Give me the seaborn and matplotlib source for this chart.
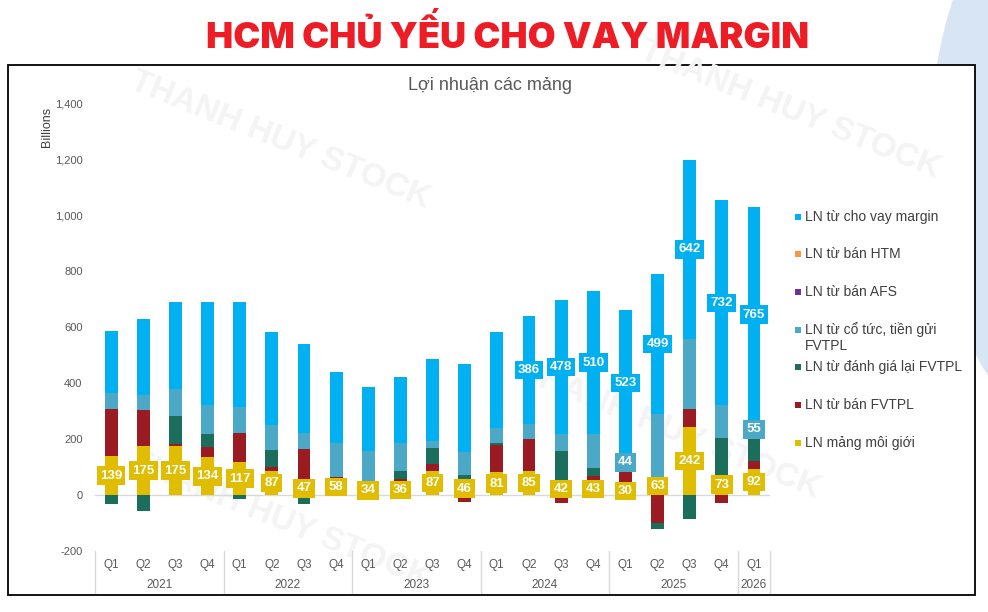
import numpy as np
import pandas as pd
import matplotlib
matplotlib.use("Agg")
import matplotlib.pyplot as plt
import matplotlib.transforms as mtransforms
from matplotlib.patches import Rectangle, Ellipse
import seaborn as sns

# ---------------- data ----------------
quarters = ["Q1", "Q2", "Q3", "Q4"] * 5 + ["Q1"]
years = ["2021"] * 4 + ["2022"] * 4 + ["2023"] * 4 + ["2024"] * 4 + ["2025"] * 4 + ["2026"]
year_labels = ["2021", "2022", "2023", "2024", "2025", "2026"]

# series, bottom of stack first (billions VND)
moi_gioi = [139, 175, 175, 134, 117, 87, 47, 58, 34, 36, 87, 46, 81, 85, 42, 43, 30, 63, 242, 73, 92]
ban_fvtpl = [169, 129, 8, 39, 106, 14, 119, 8, 0, 20, 23, -24, 96, 114, -30, 26, 57, -100, 66, -29, 30]
danh_gia_lai = [-32, -56, 100, 45, -15, 60, -33, -5, 16, 31, 59, 26, 10, 0, 115, 27, 8, -22, -86, 131, 85]
co_tuc = [58, 54, 95, 103, 93, 90, 57, 119, 107, 100, 24, 81, 54, 55, 61, 122, 44, 227, 248, 116, 55]
ban_afs = [0] * 21
ban_htm = [0] * 21
cho_vay = [221, 272, 313, 370, 375, 330, 318, 253, 227, 233, 294, 316, 340, 386, 478, 510, 523, 499, 642, 732, 765]

show_margin_label = [False] * 13 + [True] * 8
show_cotuc_label = [False] * 16 + [True, False, False, False, True]

# ---------------- style ----------------
sns.set_theme(style="white")
plt.rcParams['font.family'] = ['Liberation Sans', 'DejaVu Sans']

C_MARGIN = "#00B0F0"
C_HTM = "#F79646"
C_AFS = "#7030A0"
C_COTUC = "#4BA8C6"
C_DGL = "#1B6E5B"
C_BAN = "#9B1B22"
C_MG = "#E0BD00"
colors = [C_MG, C_BAN, C_DGL, C_COTUC, C_AFS, C_HTM, C_MARGIN]
GRAY = "#595959"

W, H = 988, 612
fig = plt.figure(figsize=(W / 100, H / 100), dpi=100)

def fx(px):
    return px / W

def fy(py):
    return 1 - py / H

# decorative background shape on the right
fig.patches.append(Ellipse((fx(1100), fy(150)), 2 * 170 / W, 2 * 300 / H,
                           transform=fig.transFigure, facecolor="#D8E5F5",
                           edgecolor="none", zorder=-5))
# chart frame
fig.patches.append(Rectangle((fx(8), fy(595)), fx(975) - fx(8), fy(65) - fy(595),
                             transform=fig.transFigure, facecolor="white",
                             edgecolor="black", linewidth=1.3, zorder=-4))

# watermarks
for (x, y) in [(280, 140), (790, 110), (670, 430), (280, 520)]:
    fig.text(fx(x), fy(y), "THANH HUY STOCK", rotation=-22, fontsize=24,
             fontweight="bold", color="#F4F4F4", ha="center", va="center", zorder=-3)

# main title
fig.text(fx(508), fy(35), "HCM CHỦ YẾU CHO VAY MARGIN", fontsize=26,
         fontweight="black", color="#EE1C25", ha="center", va="center",
         family=["Inter", "Liberation Sans", "DejaVu Sans"])
# chart title
fig.text(fx(490), fy(86), "Lợi nhuận các mảng", fontsize=13, color=GRAY,
         ha="center", va="center")

ax = fig.add_axes([fx(95), fy(551), fx(770) - fx(95), fy(103) - fy(551)])
ax.set_facecolor("none")

cats = [f"{q} {y}" for q, y in zip(quarters, years)]
arr = np.array([moi_gioi, ban_fvtpl, danh_gia_lai, co_tuc, ban_afs, ban_htm, cho_vay], dtype=float)
pos = np.clip(arr, 0, None).cumsum(axis=0)
neg = np.clip(arr, None, 0).cumsum(axis=0)

for k in reversed(range(arr.shape[0])):
    hp = np.where(arr[k] > 0, pos[k], 0.0)
    hn = np.where(arr[k] < 0, neg[k], 0.0)
    df = pd.DataFrame({"cat": cats, "pos": hp, "neg": hn})
    if (arr[k] > 0).any():
        sns.barplot(data=df, x="cat", y="pos", order=cats, color=colors[k],
                    saturation=1, width=0.4, errorbar=None, ax=ax, linewidth=0)
    if (arr[k] < 0).any():
        sns.barplot(data=df, x="cat", y="neg", order=cats, color=colors[k],
                    saturation=1, width=0.4, errorbar=None, ax=ax, linewidth=0)

ax.axhline(0, color="#D9D9D9", linewidth=1, zorder=0.5)
ax.set_xlim(-0.5, len(cats) - 0.5)
ax.set_ylim(-200, 1400)
ax.set_yticks(np.arange(-200, 1401, 200))
ax.set_yticklabels([f"{v:,}" for v in np.arange(-200, 1401, 200)])
ax.tick_params(axis="y", length=0, labelsize=8, labelcolor=GRAY, pad=9)
ax.set_xticks([])
ax.set_xlabel("")
ax.set_ylabel("")
for s in ax.spines.values():
    s.set_visible(False)

# data labels
lbl_kw = dict(ha="center", va="center", color="white", fontsize=9.5, fontweight="bold", zorder=5)
for i in range(len(cats)):
    ax.text(i, moi_gioi[i] / 2, f"{moi_gioi[i]}",
            bbox=dict(boxstyle="square,pad=0.25", fc=C_MG, ec="none"), **lbl_kw)
    if show_margin_label[i]:
        ax.text(i, pos[5][i] + cho_vay[i] / 2, f"{cho_vay[i]}",
                bbox=dict(boxstyle="square,pad=0.25", fc=C_MARGIN, ec="none"), **lbl_kw)
    if show_cotuc_label[i]:
        ax.text(i, pos[2][i] + co_tuc[i] / 2, f"{co_tuc[i]}",
                bbox=dict(boxstyle="square,pad=0.25", fc=C_COTUC, ec="none"), **lbl_kw)

# two-level category axis
trans = mtransforms.blended_transform_factory(ax.transData, ax.transAxes)
ax_h = 551 - 103
def ay(py):
    return (551 - py) / ax_h

for i, q in enumerate(quarters):
    ax.text(i, ay(565), q, transform=trans, ha="center", va="center",
            fontsize=8.5, color=GRAY, clip_on=False)
starts = [0]
for i in range(1, len(years)):
    if years[i] != years[i - 1]:
        starts.append(i)
bounds = starts + [len(years)]
for j, yl in enumerate(year_labels):
    a, b = bounds[j], bounds[j + 1]
    ax.text((a + b - 1) / 2, ay(585), yl, transform=trans, ha="center", va="center",
            fontsize=8.5, color=GRAY, clip_on=False)
for b in bounds:
    ax.plot([b - 0.5, b - 0.5], [0, ay(593)], transform=trans, color="#D9D9D9",
            linewidth=1, clip_on=False)

# axis unit
fig.text(fx(47), fy(127), "Billions", rotation=90, fontsize=9, color="#404040",
         ha="center", va="center")

# legend (top of stack first)
leg_items = [("LN từ cho vay margin", C_MARGIN, 217),
             ("LN từ bán HTM", C_HTM, 254),
             ("LN từ bán AFS", C_AFS, 292),
             ("LN từ cổ tức, tiền gửi", C_COTUC, 330),
             ("LN từ đánh giá lại FVTPL", C_DGL, 367),
             ("LN từ bán FVTPL", C_BAN, 405),
             ("LN mảng môi giới", C_MG, 443)]
for name, col, ypx in leg_items:
    fig.patches.append(Rectangle((fx(795), fy(ypx + 3)), 6 / W, 6 / H,
                                 transform=fig.transFigure, facecolor=col,
                                 edgecolor="none", zorder=2))
    fig.text(fx(805), fy(ypx), name, fontsize=10, color="#404040", ha="left", va="center")
fig.text(fx(805), fy(346), "FVTPL", fontsize=10, color="#404040", ha="left", va="center")

fig.savefig("out.png", dpi=100)
